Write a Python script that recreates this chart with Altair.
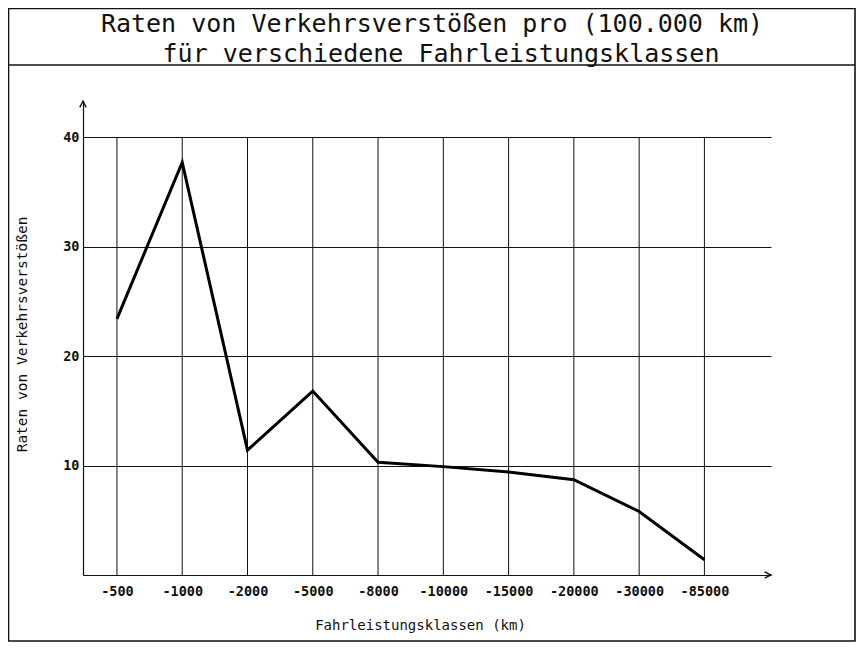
import altair as alt
import pandas as pd

# ---- data ----
categories = ["-500", "-1000", "-2000", "-5000", "-8000",
              "-10000", "-15000", "-20000", "-30000", "-85000"]
rates = [23.4, 37.7, 11.4, 16.8, 10.3, 9.9, 9.4, 8.7, 5.8, 1.4]
y_ticks = [10, 20, 30, 40]
title_lines = ["Raten von Verkehrsverstößen pro (100.000 km)",
               "für verschiedene Fahrleistungsklassen"]
x_title = "Fahrleistungsklassen (km)"
y_title = "Raten von Verkehrsverstößen"

df = pd.DataFrame({"idx": list(range(len(categories))),
                   "klasse": categories,
                   "rate": rates})
one = pd.DataFrame({"k": [0]})

W, H = 688, 474
FONT = "DejaVu Sans Mono"
INK = "#111111"

label_expr = "[" + ",".join(f"'{c}'" for c in categories) + "][datum.value]"

xscale = alt.Scale(domain=[-0.52, 10.02], nice=False, zero=False)
yscale = alt.Scale(domain=[0, 43.3], nice=False, zero=False)

x_axis = alt.Axis(values=list(range(len(categories))), labelExpr=label_expr,
                  grid=False, ticks=False, tickSize=0,
                  domainColor=INK, domainWidth=1.2,
                  labelFont=FONT, labelFontSize=13.5, labelFontWeight="bold",
                  labelColor=INK,
                  labelPadding=9, labelFlush=False, labelOverlap=False,
                  title=x_title, titleFont=FONT, titleFontSize=14,
                  titleFontWeight="normal", titleColor=INK,
                  titleX=337, titleY=50, titleBaseline="middle",
                  titleAlign="center")

y_axis = alt.Axis(values=y_ticks, grid=True, gridColor=INK, gridWidth=1,
                  ticks=False, tickSize=0,
                  domainColor=INK, domainWidth=1.2,
                  labelFont=FONT, labelFontSize=13.5, labelFontWeight="bold",
                  labelColor=INK, labelPadding=4,
                  title=y_title, titleFont=FONT, titleFontSize=14.5,
                  titleFontWeight="normal", titleColor=INK,
                  titleX=-61, titleY=233, titleAngle=-90,
                  titleBaseline="middle", titleAlign="center")

base = alt.Chart(df)

vgrid = base.transform_calculate(lo="0", hi=str(max(y_ticks))).mark_rule(
    color=INK, strokeWidth=1
).encode(
    x=alt.X("idx:Q", scale=xscale, axis=x_axis),
    y=alt.Y("lo:Q", scale=yscale, axis=y_axis),
    y2="hi:Q",
)

line = base.mark_line(color="black", strokeWidth=3, strokeJoin="miter").encode(
    x=alt.X("idx:Q", scale=xscale, axis=x_axis),
    y=alt.Y("rate:Q", scale=yscale, axis=y_axis),
    tooltip=["klasse:N", "rate:Q"],
)

up_arrow = alt.Chart(one).mark_point(
    shape="M-0.8,1.6L0,0L0.8,1.6", filled=False, size=64,
    color=INK, strokeWidth=1.4, opacity=1
).encode(x=alt.value(0), y=alt.value(0))

right_arrow = alt.Chart(one).mark_point(
    shape="M-1.6,-0.8L0,0L-1.6,0.8", filled=False, size=64,
    color=INK, strokeWidth=1.4, opacity=1
).encode(x=alt.value(W), y=alt.value(H))

frame = alt.Chart(one).mark_rect(
    fillOpacity=0, stroke=INK, strokeWidth=1.6
).encode(x=alt.value(-74.5), x2=alt.value(772), y=alt.value(-92.5), y2=alt.value(540))

sep = alt.Chart(one).mark_rule(color=INK, strokeWidth=1.4).encode(
    x=alt.value(-74.5), x2=alt.value(772), y=alt.value(-36))

t1 = alt.Chart(one).mark_text(
    font=FONT, fontSize=25, color=INK, align="center", baseline="middle"
).encode(text=alt.value(title_lines[0]), x=alt.value(349), y=alt.value(-77))

t2 = alt.Chart(one).mark_text(
    font=FONT, fontSize=25, color=INK, align="center", baseline="middle"
).encode(text=alt.value(title_lines[1]), x=alt.value(358), y=alt.value(-47))

chart = alt.layer(
    vgrid, line, up_arrow, right_arrow, frame, sep, t1, t2
).properties(
    width=W, height=H,
    autosize=alt.AutoSizeParams(type="none"),
    padding={"left": 75, "right": 85, "top": 93, "bottom": 67},
    background="white",
).configure_view(strokeOpacity=0)

chart.save("out.html", embed_options={"renderer": "svg", "actions": False})
